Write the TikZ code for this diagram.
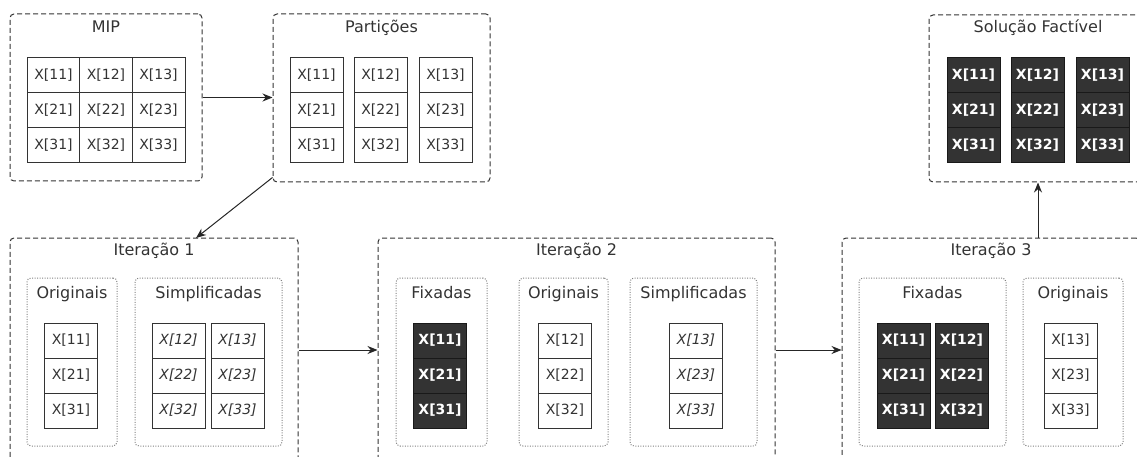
\documentclass[tikz,border=0pt]{standalone}
\usepackage{fontspec}
\setmainfont{DejaVu Sans}
\usetikzlibrary{arrows.meta,calc,fit}
\definecolor{inkline}{HTML}{333333}
\definecolor{darkcell}{HTML}{333333}
\definecolor{dotgray}{HTML}{808080}
\tikzset{
  group/.style={draw=inkline, dash pattern=on 5pt off 3pt, rounded corners=4pt,
    line width=1pt, inner sep=0pt},
  subgroup/.style={draw=dotgray, dash pattern=on 1pt off 1.5pt, rounded corners=4pt,
    line width=1pt, inner sep=0pt},
  grouptitle/.style={font=\fontsize{16}{18}\selectfont, text=inkline, anchor=base, inner sep=0pt},
  cell/.style={draw=inkline, fill=white, minimum width=53pt, minimum height=35pt,
    inner sep=0pt, line width=1pt, text=inkline, font=\fontsize{14}{16}\selectfont},
  fixedcell/.style={cell, fill=darkcell, draw=black!90, text=white,
    font=\fontsize{14}{16}\selectfont\bfseries},
  simplcell/.style={cell, font=\fontsize{14}{16}\selectfont\itshape},
  flow/.style={draw=black!85, line width=1pt, -{Stealth[length=10pt,width=8pt]}},
}
\begin{document}
\begin{tikzpicture}[x=1pt,y=-1pt]
\useasboundingbox (0,0) rectangle (1137,457);
\clip (0,0) rectangle (1137,457);

% ---------- top row: MIP, partitions, feasible solution ----------
\node[group, fit={(10,14) (202,181)}] (mip) {};
\node[grouptitle] (mipT) at ($(mip.north)+(0,19)$) {MIP};
\foreach \r/\y in {1/75.5,2/110.5,3/145.5}
  \foreach \c/\x in {1/53.5,2/106,3/158.5}
    \node[cell] (m\r\c) at (\x,\y) {X[\r\c]};

\node[group, fit={(273,14) (490,182)}] (part) {};
\node[grouptitle] (partT) at ($(part.north)+(0,19)$) {Partições};
\foreach \r/\y in {1/75.5,2/110.5,3/145.5}
  \foreach \c/\x in {1/316.5,2/380.5,3/445.5}
    \node[cell] (p\r\c) at (\x,\y) {X[\r\c]};

\node[group, fit={(929,15) (1147,182)}] (sol) {};
\node[grouptitle] (solT) at ($(sol.north)+(0,18)$) {Solução Factível};
\foreach \r/\y in {1/75.5,2/110.5,3/145.5}
  \foreach \c/\x in {1/973.5,2/1037.5,3/1102.5}
    \node[fixedcell] (s\r\c) at (\x,\y) {X[\r\c]};

% ---------- iteration 1 ----------
\node[group, fit={(10,238) (298,462)}] (it1) {};
\node[grouptitle] (it1T) at ($(it1.north)+(0,18)$) {Iteração 1};
\node[subgroup, fit={(27,278) (117,446)}] (it1o) {};
\node[grouptitle] (it1oT) at ($(it1o.north)+(0,21)$) {Originais};
\node[subgroup, fit={(135,278) (282,446)}] (it1s) {};
\node[grouptitle] (it1sT) at ($(it1s.north)+(0,21)$) {Simplificadas};
\foreach \r/\y in {1/340.5,2/375.5,3/410.5}{
  \node[cell] (a\r1) at (71,\y) {X[\r1]};
  \node[simplcell] (a\r2) at (178.5,\y) {X[\r2]};
  \node[simplcell] (a\r3) at (237.5,\y) {X[\r3]};
}

% ---------- iteration 2 ----------
\node[group, fit={(378,238) (775,462)}] (it2) {};
\node[grouptitle] (it2T) at ($(it2.north)+(0,18)$) {Iteração 2};
\node[subgroup, fit={(396,278) (487,446)}] (it2f) {};
\node[grouptitle] (it2fT) at ($(it2f.north)+(0,21)$) {Fixadas};
\node[subgroup, fit={(519,278) (608,446)}] (it2o) {};
\node[grouptitle] (it2oT) at ($(it2o.north)+(0,21)$) {Originais};
\node[subgroup, fit={(630,278) (757,446)}] (it2s) {};
\node[grouptitle] (it2sT) at ($(it2s.north)+(0,21)$) {Simplificadas};
\foreach \r/\y in {1/340.5,2/375.5,3/410.5}{
  \node[fixedcell] (b\r1) at (440,\y) {X[\r1]};
  \node[cell] (b\r2) at (565,\y) {X[\r2]};
  \node[simplcell] (b\r3) at (696,\y) {X[\r3]};
}

% ---------- iteration 3 ----------
\node[group, fit={(842,238) (1140,462)}] (it3) {};
\node[grouptitle] (it3T) at ($(it3.north)+(0,18)$) {Iteração 3};
\node[subgroup, fit={(859,278) (1006,446)}] (it3f) {};
\node[grouptitle] (it3fT) at ($(it3f.north)+(0,21)$) {Fixadas};
\node[subgroup, fit={(1023,278) (1123,446)}] (it3o) {};
\node[grouptitle] (it3oT) at ($(it3o.north)+(0,21)$) {Originais};
\foreach \r/\y in {1/340.5,2/375.5,3/410.5}{
  \node[fixedcell] (c\r1) at (903.5,\y) {X[\r1]};
  \node[fixedcell] (c\r2) at (961.5,\y) {X[\r2]};
  \node[cell] (c\r3) at (1070.5,\y) {X[\r3]};
}

% ---------- flow between stages ----------
\coordinate (it1in) at (196,238);
\draw[flow] (mip.east) -- (mip.east -| part.west);
\draw[flow] ($(part.south west)+(0,-5)$) -- (it1in);
\draw[flow] (it1.east) -- (it2.west);
\draw[flow] (it2.east) -- (it3.west);
\draw[flow] (sol.south |- it3.north) -- (sol.south);
\end{tikzpicture}
\end{document}
